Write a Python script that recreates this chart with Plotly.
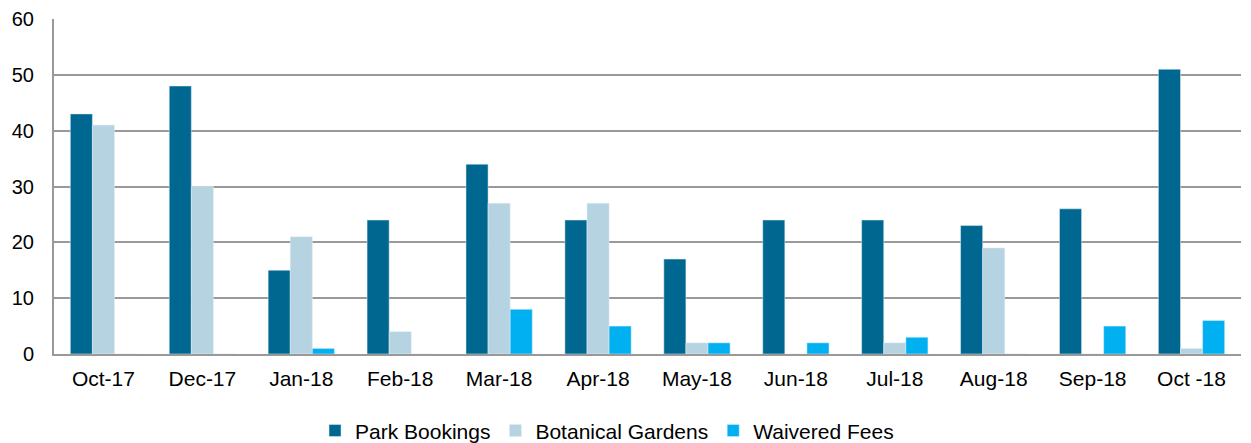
import plotly.graph_objects as go

categories = ["Oct-17", "Dec-17", "Jan-18", "Feb-18", "Mar-18", "Apr-18", "May-18",
              "Jun-18", "Jul-18", "Aug-18", "Sep-18", "Oct -18"]
park_bookings = [43, 48, 15, 24, 34, 24, 17, 24, 24, 23, 26, 51]
botanical_gardens = [41, 30, 21, 4, 27, 27, 2, 0, 2, 19, 0, 1]
waivered_fees = [0, 0, 1, 0, 8, 5, 2, 2, 3, 0, 5, 6]
y_ticks = [0, 10, 20, 30, 40, 50, 60]

fig = go.Figure()
fig.add_trace(go.Bar(name="Park Bookings", x=categories, y=park_bookings, marker_color="#006890"))
fig.add_trace(go.Bar(name="Botanical Gardens", x=categories, y=botanical_gardens, marker_color="#B5D3E0"))
fig.add_trace(go.Bar(name="Waivered Fees", x=categories, y=waivered_fees, marker_color="#00B0F0"))

fig.update_layout(
    width=1243, height=435,
    barmode="group", bargap=0.33, bargroupgap=0,
    plot_bgcolor="white", paper_bgcolor="white",
    margin=dict(l=46, r=10, t=11, b=89),
    font=dict(family="Liberation Sans, Arial", size=21, color="#000000"),
    legend=dict(orientation="h", xref="container", yref="container",
                x=0.247, xanchor="left", y=0.028, yanchor="middle",
                font=dict(size=21), itemwidth=30, traceorder="normal"),
    xaxis=dict(showline=True, linecolor="#999999", linewidth=2, ticks="", automargin=False,
               ticklabelstandoff=5, tickfont=dict(size=21)),
    yaxis=dict(range=[0, 60], tickvals=y_ticks, showgrid=True, gridcolor="#999999", gridwidth=2,
               showline=True, linecolor="#999999", linewidth=2, zeroline=False, automargin=False,
               ticks="", ticklabelstandoff=14, tickfont=dict(size=20)),
)
fig.write_html("out.html")
